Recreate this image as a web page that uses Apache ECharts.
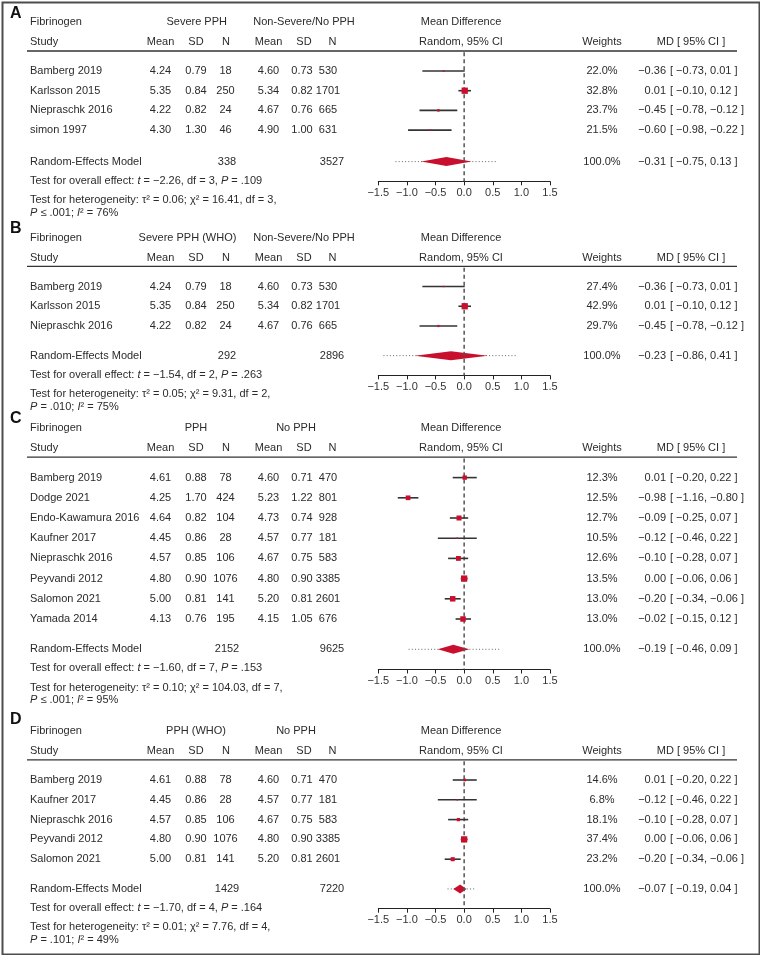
<!DOCTYPE html>
<html><head><meta charset="utf-8">
<script src="https://cdn.jsdelivr.net/npm/echarts@6/dist/echarts.min.js"></script>
<style>html,body{margin:0;padding:0;background:#fff}#c{width:760px;height:955px}</style>
</head><body><div id="c"></div><script>
// ---------- Panel A ----------
const A_studies = ['Bamberg 2019', 'Karlsson 2015', 'Niepraschk 2016', 'simon 1997'];
const A_mean1 = [4.24, 5.35, 4.22, 4.30];
const A_sd1 = [0.79, 0.84, 0.82, 1.30];
const A_n1 = [18, 250, 24, 46];
const A_mean2 = [4.60, 5.34, 4.67, 4.90];
const A_sd2 = [0.73, 0.82, 0.76, 1.00];
const A_n2 = [530, 1701, 665, 631];
const A_md = [-0.36, 0.01, -0.45, -0.60];
const A_lo = [-0.73, -0.10, -0.78, -0.98];
const A_hi = [0.01, 0.12, -0.12, -0.22];
const A_weight = [22.0, 32.8, 23.7, 21.5];
const A_total = [338, 3527];
const A_summary = [-0.31, -0.75, 0.13];
const A_predict = [-1.20, 0.59];
const A_groups = ['Severe PPH', 'Non-Severe/No PPH'];
const A_overall = [-2.26, 3, '= .109'];
const A_het = [0.06, 16.41, 3, '\u2264 .001', 76];

// ---------- Panel B ----------
const B_studies = ['Bamberg 2019', 'Karlsson 2015', 'Niepraschk 2016'];
const B_mean1 = [4.24, 5.35, 4.22];
const B_sd1 = [0.79, 0.84, 0.82];
const B_n1 = [18, 250, 24];
const B_mean2 = [4.60, 5.34, 4.67];
const B_sd2 = [0.73, 0.82, 0.76];
const B_n2 = [530, 1701, 665];
const B_md = [-0.36, 0.01, -0.45];
const B_lo = [-0.73, -0.10, -0.78];
const B_hi = [0.01, 0.12, -0.12];
const B_weight = [27.4, 42.9, 29.7];
const B_total = [292, 2896];
const B_summary = [-0.23, -0.86, 0.41];
const B_predict = [-1.41, 0.91];
const B_groups = ['Severe PPH (WHO)', 'Non-Severe/No PPH'];
const B_overall = [-1.54, 2, '= .263'];
const B_het = [0.05, 9.31, 2, '= .010', 75];

// ---------- Panel C ----------
const C_studies = ['Bamberg 2019', 'Dodge 2021', 'Endo-Kawamura 2016', 'Kaufner 2017', 'Niepraschk 2016', 'Peyvandi 2012', 'Salomon 2021', 'Yamada 2014'];
const C_mean1 = [4.61, 4.25, 4.64, 4.45, 4.57, 4.80, 5.00, 4.13];
const C_sd1 = [0.88, 1.70, 0.82, 0.86, 0.85, 0.90, 0.81, 0.76];
const C_n1 = [78, 424, 104, 28, 106, 1076, 141, 195];
const C_mean2 = [4.60, 5.23, 4.73, 4.57, 4.67, 4.80, 5.20, 4.15];
const C_sd2 = [0.71, 1.22, 0.74, 0.77, 0.75, 0.90, 0.81, 1.05];
const C_n2 = [470, 801, 928, 181, 583, 3385, 2601, 676];
const C_md = [0.01, -0.98, -0.09, -0.12, -0.10, 0.00, -0.20, -0.02];
const C_lo = [-0.20, -1.16, -0.25, -0.46, -0.28, -0.06, -0.34, -0.15];
const C_hi = [0.22, -0.80, 0.07, 0.22, 0.07, 0.06, -0.06, 0.12];
const C_weight = [12.3, 12.5, 12.7, 10.5, 12.6, 13.5, 13.0, 13.0];
const C_total = [2152, 9625];
const C_summary = [-0.19, -0.46, 0.09];
const C_predict = [-0.97, 0.62];
const C_groups = ['PPH', 'No PPH'];
const C_overall = [-1.60, 7, '= .153'];
const C_het = [0.10, 104.03, 7, '\u2264 .001', 95];

// ---------- Panel D ----------
const D_studies = ['Bamberg 2019', 'Kaufner 2017', 'Niepraschk 2016', 'Peyvandi 2012', 'Salomon 2021'];
const D_mean1 = [4.61, 4.45, 4.57, 4.80, 5.00];
const D_sd1 = [0.88, 0.86, 0.85, 0.90, 0.81];
const D_n1 = [78, 28, 106, 1076, 141];
const D_mean2 = [4.60, 4.57, 4.67, 4.80, 5.20];
const D_sd2 = [0.71, 0.77, 0.75, 0.90, 0.81];
const D_n2 = [470, 181, 583, 3385, 2601];
const D_md = [0.01, -0.12, -0.10, 0.00, -0.20];
const D_lo = [-0.20, -0.46, -0.28, -0.06, -0.34];
const D_hi = [0.22, 0.22, 0.07, 0.06, -0.06];
const D_weight = [14.6, 6.8, 18.1, 37.4, 23.2];
const D_total = [1429, 7220];
const D_summary = [-0.07, -0.19, 0.04];
const D_predict = [-0.29, 0.18];
const D_groups = ['PPH (WHO)', 'No PPH'];
const D_overall = [-1.70, 4, '= .164'];
const D_het = [0.01, 7.76, 4, '= .101', 49];

const xTicks = [-1.5, -1.0, -0.5, 0.0, 0.5, 1.0, 1.5];

const panels = [
  {studies: A_studies, m1: A_mean1, s1: A_sd1, n1: A_n1, m2: A_mean2, s2: A_sd2, n2: A_n2, md: A_md, lo: A_lo, hi: A_hi, w: A_weight, tot: A_total, sum: A_summary, pi: A_predict, groups: A_groups, ov: A_overall, het: A_het},
  {studies: B_studies, m1: B_mean1, s1: B_sd1, n1: B_n1, m2: B_mean2, s2: B_sd2, n2: B_n2, md: B_md, lo: B_lo, hi: B_hi, w: B_weight, tot: B_total, sum: B_summary, pi: B_predict, groups: B_groups, ov: B_overall, het: B_het},
  {studies: C_studies, m1: C_mean1, s1: C_sd1, n1: C_n1, m2: C_mean2, s2: C_sd2, n2: C_n2, md: C_md, lo: C_lo, hi: C_hi, w: C_weight, tot: C_total, sum: C_summary, pi: C_predict, groups: C_groups, ov: C_overall, het: C_het},
  {studies: D_studies, m1: D_mean1, s1: D_sd1, n1: D_n1, m2: D_mean2, s2: D_sd2, n2: D_n2, md: D_md, lo: D_lo, hi: D_hi, w: D_weight, tot: D_total, sum: D_summary, pi: D_predict, groups: D_groups, ov: D_overall, het: D_het}
];

// layout (positions only)
const layout = [
  {letter: 'A', base: 71, rh: 19.7, gap: 1.6, letterY: 15, g: [196.7, 304]},
  {letter: 'B', base: 286.5, rh: 19.75, gap: 1.5, letterY: 230, g: [187.5, 304]},
  {letter: 'C', base: 477.6, rh: 20.2, gap: 1.5, letterY: 420, g: [196, 296]},
  {letter: 'D', base: 780, rh: 19.8, gap: 1.5, letterY: 721, g: [196, 296]}
];

const FONT = '"Liberation Sans", Arial, Helvetica, sans-serif';
const INK = '#2b2b2b';
const RED = '#c8102e';
const MINUS = '\u2212';
const fm = (v, d) => (v < 0 ? MINUS : '') + Math.abs(v).toFixed(d);
const ciText = (lo, hi) => '[ ' + fm(lo, 2) + ', ' + fm(hi, 2) + ' ]';

function txt(x, y, text, align) {
  return {
    type: 'text', x: x, y: y, silent: true,
    style: {
      text: text, fill: INK, fontSize: 11, fontFamily: FONT,
      align: align, verticalAlign: 'middle',
      rich: {i: {fontStyle: 'italic', fill: INK, fontSize: 11, fontFamily: FONT, verticalAlign: 'middle'}}
    }
  };
}

const COL = {name: 30, m1: 160.5, s1: 196, n1: 225.5, m2: 268.5, s2: 302, n2: 328, w: 602, est: 666, ci: 670};

const grids = [], xAxes = [], yAxes = [], series = [], graphics = [];

panels.forEach((P, p) => {
  const L = layout[p];
  const k = P.studies.length;
  const sumRow = k - 1 + L.gap;
  const yMax = sumRow + 1;
  grids.push({left: 378.3, width: 171.7, top: L.base - L.rh, height: (yMax + 1) * L.rh, containLabel: false});
  xAxes.push({
    type: 'value', gridIndex: p, min: xTicks[0], max: xTicks[xTicks.length - 1], interval: 0.5, position: 'bottom',
    axisLine: {show: true, onZero: false, lineStyle: {color: '#222', width: 1}},
    axisTick: {show: true, length: 4, lineStyle: {color: '#222', width: 1}},
    axisLabel: {formatter: v => fm(v, 1), color: '#333', fontSize: 11, fontFamily: FONT, margin: 6},
    splitLine: {show: false}
  });
  yAxes.push({type: 'value', gridIndex: p, min: -1, max: yMax, inverse: true, show: false});

  graphics.push({type: 'text', left: 10, top: L.letterY - 9, style: {text: L.letter, fontSize: 16, fontWeight: 'bold', fontFamily: FONT, fill: '#111'}});

  const wMin = Math.min.apply(null, P.w), wMax = Math.max.apply(null, P.w);
  const sizeFor = w => 1.5 + (wMax > wMin ? (w - wMin) / (wMax - wMin) : 1) * 4.8;

  // diamond + prediction interval
  series.push({
    type: 'custom', xAxisIndex: p, yAxisIndex: p, clip: false, z: 2, silent: true,
    data: [[P.sum[0], P.sum[1], P.sum[2], sumRow, P.pi[0], P.pi[1]]],
    renderItem: (params, api) => {
      const r = api.value(3);
      const pe = api.coord([api.value(0), r]);
      const pl = api.coord([api.value(1), r]);
      const ph = api.coord([api.value(2), r]);
      const q0 = api.coord([api.value(4), r]);
      const q1 = api.coord([api.value(5), r]);
      const h = 4.5;
      return {type: 'group', children: [
        {type: 'line', shape: {x1: q0[0], y1: q0[1], x2: q1[0], y2: q1[1]}, style: {stroke: '#666', lineWidth: 1, lineDash: [1, 2.2]}},
        {type: 'polygon', shape: {points: [[pl[0], pe[1]], [pe[0], pe[1] - h], [ph[0], pe[1]], [pe[0], pe[1] + h]]}, style: {fill: RED}}
      ]};
    }
  });

  // zero reference line + header + summary texts + tests
  series.push({
    type: 'custom', xAxisIndex: p, yAxisIndex: p, clip: false, z: 3, silent: true,
    data: [[0, sumRow]],
    renderItem: (params, api) => {
      const top = api.coord([0, -0.95]);
      const bot = api.coord([0, yMax]);
      const ySum = api.coord([0, api.value(1)])[1];
      const yFib = api.coord([0, -1])[1] - 29;
      const yStudy = api.coord([0, -1])[1] - 9;
      const ySep = api.coord([0, -1])[1] - 0.3;
      const ch = [];
      ch.push({type: 'line', shape: {x1: top[0], y1: top[1], x2: bot[0], y2: bot[1]}, style: {stroke: '#555', lineWidth: 1.5, lineDash: [4, 3]}});
      ch.push({type: 'line', shape: {x1: 27, y1: ySep, x2: 737, y2: ySep}, style: {stroke: '#333', lineWidth: 1.3}});
      ch.push(txt(COL.name, yFib, 'Fibrinogen', 'left'));
      ch.push(txt(L.g[0], yFib, P.groups[0], 'center'));
      ch.push(txt(L.g[1], yFib, P.groups[1], 'center'));
      ch.push(txt(461, yFib, 'Mean Difference', 'center'));
      ch.push(txt(COL.name, yStudy, 'Study', 'left'));
      ch.push(txt(COL.m1, yStudy, 'Mean', 'center'));
      ch.push(txt(COL.s1, yStudy, 'SD', 'center'));
      ch.push(txt(226, yStudy, 'N', 'center'));
      ch.push(txt(COL.m2, yStudy, 'Mean', 'center'));
      ch.push(txt(304, yStudy, 'SD', 'center'));
      ch.push(txt(332.5, yStudy, 'N', 'center'));
      ch.push(txt(461, yStudy, 'Random, 95% CI', 'center'));
      ch.push(txt(COL.w, yStudy, 'Weights', 'center'));
      ch.push(txt(691, yStudy, 'MD [ 95% CI ]', 'center'));
      // summary
      ch.push(txt(COL.name, ySum, 'Random-Effects Model', 'left'));
      ch.push(txt(227, ySum, String(P.tot[0]), 'center'));
      ch.push(txt(332, ySum, String(P.tot[1]), 'center'));
      ch.push(txt(COL.w, ySum, '100.0%', 'center'));
      ch.push(txt(COL.est, ySum, fm(P.sum[0], 2), 'right'));
      ch.push(txt(COL.ci, ySum, ciText(P.sum[1], P.sum[2]), 'left'));
      // tests
      ch.push(txt(COL.name, ySum + 19, 'Test for overall effect: {i|t} = ' + fm(P.ov[0], 2) + ', df = ' + P.ov[1] + ', {i|P} ' + P.ov[2], 'left'));
      ch.push(txt(COL.name, ySum + 38.5, 'Test for heterogeneity: \u03c4\u00b2 = ' + P.het[0].toFixed(2) + '; \u03c7\u00b2 = ' + P.het[1].toFixed(2) + ', df = ' + P.het[2] + ',', 'left'));
      ch.push(txt(COL.name, ySum + 51, '{i|P} ' + P.het[3] + '; {i|I}\u00b2 = ' + P.het[4] + '%', 'left'));
      return {type: 'group', children: ch};
    }
  });

  // row texts
  series.push({
    type: 'custom', xAxisIndex: p, yAxisIndex: p, clip: false, z: 3, silent: true,
    data: P.studies.map((s, i) => [P.md[i], i]),
    renderItem: (params, api) => {
      const i = params.dataIndex;
      const y = api.coord([0, api.value(1)])[1];
      return {type: 'group', children: [
        txt(COL.name, y, P.studies[i], 'left'),
        txt(COL.m1, y, P.m1[i].toFixed(2), 'center'),
        txt(COL.s1, y, P.s1[i].toFixed(2), 'center'),
        txt(COL.n1, y, String(P.n1[i]), 'center'),
        txt(COL.m2, y, P.m2[i].toFixed(2), 'center'),
        txt(COL.s2, y, P.s2[i].toFixed(2), 'center'),
        txt(COL.n2, y, String(P.n2[i]), 'center'),
        txt(COL.w, y, P.w[i].toFixed(1) + '%', 'center'),
        txt(COL.est, y, fm(P.md[i], 2), 'right'),
        txt(COL.ci, y, ciText(P.lo[i], P.hi[i]), 'left')
      ]};
    }
  });

  // CI bars + squares
  series.push({
    type: 'custom', xAxisIndex: p, yAxisIndex: p, clip: false, z: 4, silent: true,
    data: P.studies.map((s, i) => [P.md[i], P.lo[i], P.hi[i], i, P.w[i]]),
    renderItem: (params, api) => {
      const r = api.value(3);
      const pe = api.coord([api.value(0), r]);
      const pl = api.coord([api.value(1), r]);
      const ph = api.coord([api.value(2), r]);
      const s = sizeFor(api.value(4));
      return {type: 'group', children: [
        {type: 'line', shape: {x1: pl[0], y1: pl[1], x2: ph[0], y2: ph[1]}, style: {stroke: '#333', lineWidth: 1.6}},
        {type: 'rect', shape: {x: pe[0] - s / 2, y: pe[1] - s / 2, width: s, height: s}, style: {fill: RED}}
      ]};
    }
  });
});

graphics.push({type: 'rect', left: 0, top: 0, z: 100, silent: true, shape: {x: 1, y: 1, width: 757, height: 952}, style: {fill: 'none', stroke: '#4d4d4d', lineWidth: 2}});

const chart = echarts.init(document.getElementById('c'), null, {renderer: 'canvas'});
chart.setOption({
  animation: false,
  backgroundColor: '#fff',
  grid: grids, xAxis: xAxes, yAxis: yAxes, series: series, graphic: graphics
});
</script></body></html>
